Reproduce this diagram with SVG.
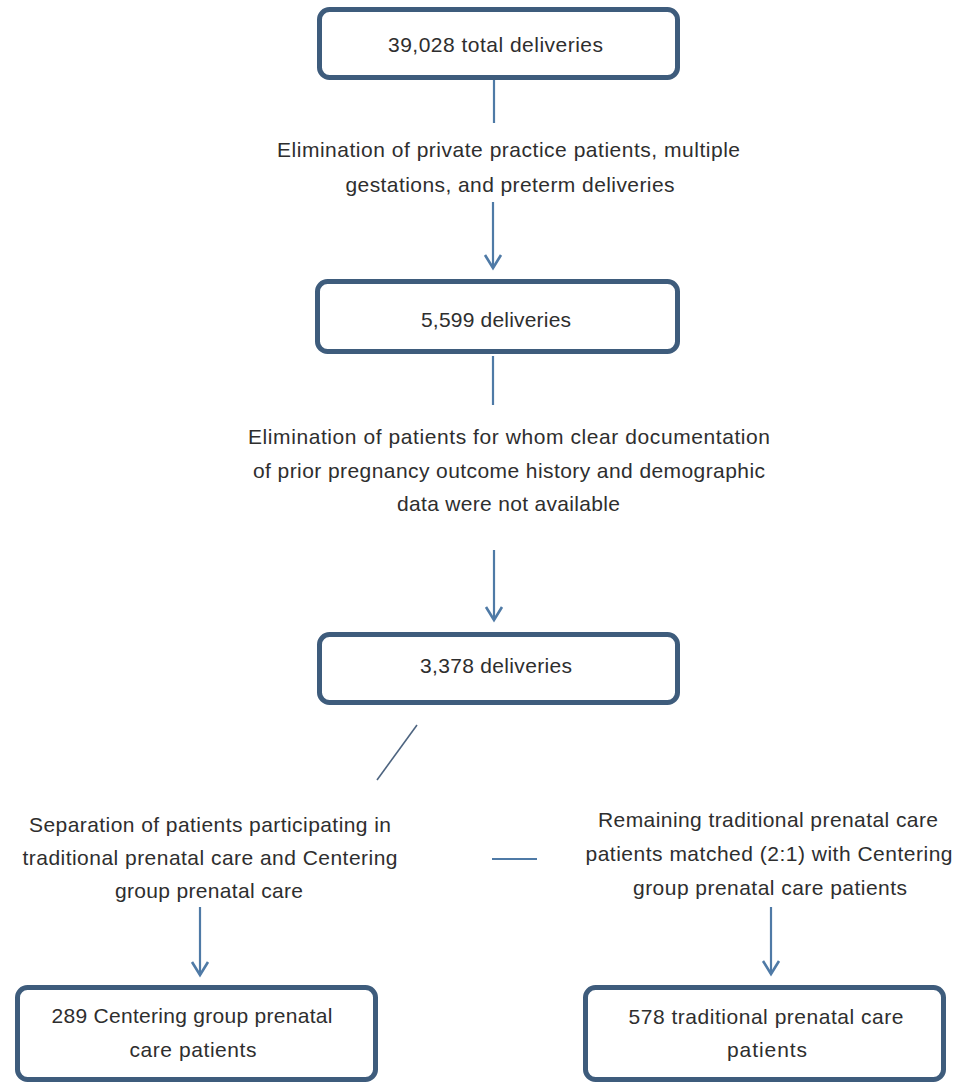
<svg xmlns="http://www.w3.org/2000/svg" width="955" height="1082" viewBox="0 0 955 1082">
<style>
.box{fill:#ffffff;stroke:#3e5c7c;stroke-width:5;}
.t{font-family:"Liberation Sans",Arial,sans-serif;font-size:21px;fill:#2e2e2e;text-anchor:middle;}
.c{fill:none;stroke:#4f7aa6;stroke-width:2.2;}
.d{fill:none;stroke:#4d6480;stroke-width:1.6;}
</style>
<defs>
<marker id="ah" markerUnits="userSpaceOnUse" markerWidth="24" markerHeight="24" viewBox="-16 -12 24 24" refX="0" refY="0" orient="auto" overflow="visible">
<path d="M-13,-8 L0,0 L-13,8" fill="none" stroke="#4f7aa6" stroke-width="2.6" stroke-linejoin="miter"/>
</marker>
</defs>
<rect width="955" height="1082" fill="#ffffff"/>
<g id="connectors">
<line class="c" x1="494" y1="80" x2="494" y2="123"/>
<line class="c" x1="493" y1="202" x2="493" y2="268" marker-end="url(#ah)"/>
<line class="c" x1="493" y1="356" x2="493" y2="405"/>
<line class="c" x1="494" y1="550" x2="494" y2="620" marker-end="url(#ah)"/>
<line class="d" x1="417" y1="725" x2="377" y2="780"/>
<line class="c" x1="492" y1="859" x2="537" y2="859" stroke-width="2.6"/>
<line class="c" x1="200" y1="907" x2="200" y2="975" marker-end="url(#ah)"/>
<line class="c" x1="771" y1="907" x2="771" y2="974" marker-end="url(#ah)"/>
</g>
<g id="n1">
<rect class="box" x="319.5" y="9.5" width="358" height="68" rx="10"/>
<text class="t" x="495.5" y="52" textLength="215" lengthAdjust="spacing">39,028 total deliveries</text>
</g>
<g id="l1">
<text class="t" x="508.5" y="157" textLength="463" lengthAdjust="spacing">Elimination of private practice patients, multiple</text>
<text class="t" x="510" y="192" textLength="329" lengthAdjust="spacing">gestations, and preterm deliveries</text>
</g>
<g id="n2">
<rect class="box" x="317.5" y="281.5" width="360" height="70" rx="10"/>
<text class="t" x="496" y="327" textLength="150" lengthAdjust="spacing">5,599 deliveries</text>
</g>
<g id="l2">
<text class="t" x="509" y="444" textLength="522" lengthAdjust="spacing">Elimination of patients for whom clear documentation</text>
<text class="t" x="509" y="478" textLength="512" lengthAdjust="spacing">of prior pregnancy outcome history and demographic</text>
<text class="t" x="508.5" y="511" textLength="223" lengthAdjust="spacing">data were not available</text>
</g>
<g id="n3">
<rect class="box" x="319.5" y="634.5" width="358" height="68" rx="10"/>
<text class="t" x="496" y="673" textLength="152" lengthAdjust="spacing">3,378 deliveries</text>
</g>
<g id="l3">
<text class="t" x="210" y="832" textLength="362" lengthAdjust="spacing">Separation of patients participating in</text>
<text class="t" x="210" y="865" textLength="375" lengthAdjust="spacing">traditional prenatal care and Centering</text>
<text class="t" x="209" y="898" textLength="188" lengthAdjust="spacing">group prenatal care</text>
</g>
<g id="l4">
<text class="t" x="768" y="827" textLength="340" lengthAdjust="spacing">Remaining traditional prenatal care</text>
<text class="t" x="769" y="861" textLength="367" lengthAdjust="spacing">patients matched (2:1) with Centering</text>
<text class="t" x="770" y="895" textLength="274" lengthAdjust="spacing">group prenatal care patients</text>
</g>
<g id="n4">
<rect class="box" x="17.5" y="987.5" width="358" height="92" rx="10"/>
<text class="t" x="192" y="1023" textLength="281" lengthAdjust="spacing">289 Centering group prenatal</text>
<text class="t" x="193" y="1057" textLength="127" lengthAdjust="spacing">care patients</text>
</g>
<g id="n5">
<rect class="box" x="585.5" y="987.5" width="358" height="92" rx="10"/>
<text class="t" x="766" y="1024" textLength="275" lengthAdjust="spacing">578 traditional prenatal care</text>
<text class="t" x="767" y="1057" textLength="80" lengthAdjust="spacing">patients</text>
</g>
</svg>
